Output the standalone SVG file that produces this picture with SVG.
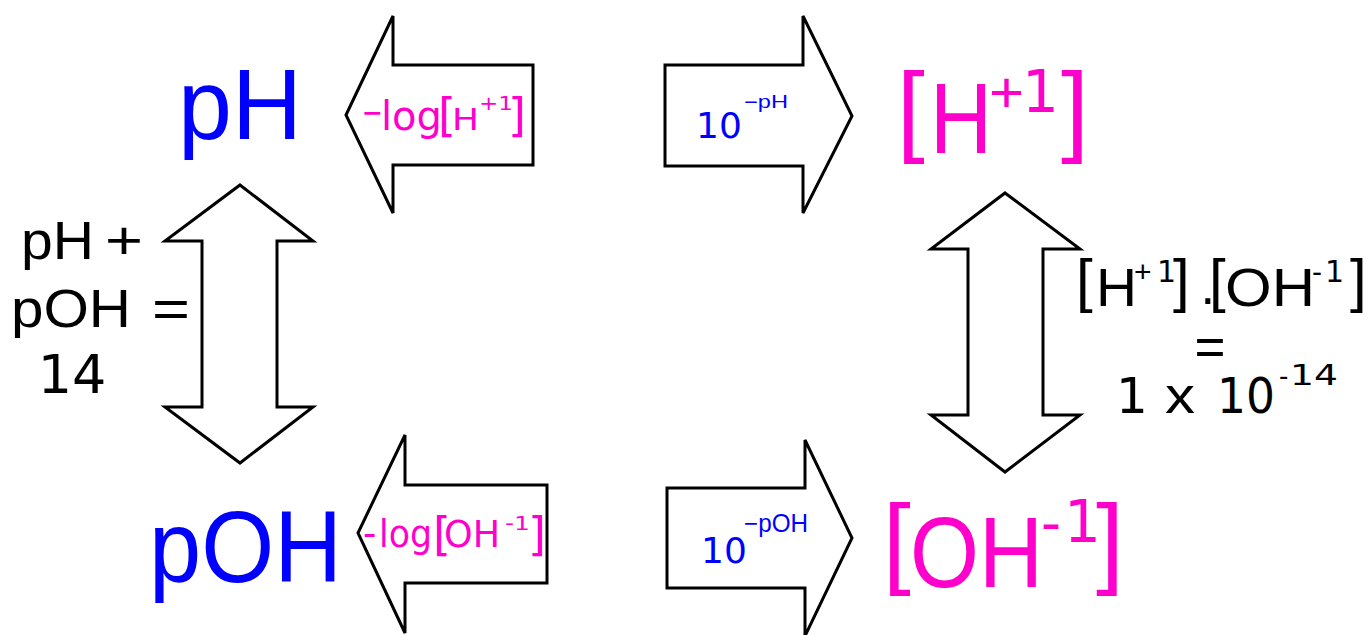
<svg xmlns="http://www.w3.org/2000/svg" width="1371" height="635" viewBox="0 0 1371 635">
<style>
.arrow{fill:#fff;stroke:#000;stroke-width:3;stroke-linejoin:miter}
.s{font-family:"Liberation Sans",Arial,sans-serif}
.d{font-family:"DejaVu Sans",Verdana,sans-serif}
.blue{fill:#0000ff}
.mag{fill:#ff00cc}
.blk{fill:#000}
</style>
<rect width="1371" height="635" fill="#fff"/>
<g id="connectors">
<polygon class="arrow" points="346,115 393,16 393,65 533,65 533,165 393,165 393,213"/>
<polygon class="arrow" points="665,65 803,65 803,16 852,116 803,213 803,166 665,166"/>
<polygon class="arrow" points="358,533 405,435 405,485 547,485 547,583 405,583 405,633"/>
<polygon class="arrow" points="667,488 805,488 805,440 852,538 805,636 805,588 667,588"/>
<polygon class="arrow" points="240,185 313,241 277,241 277,407 313,407 240,463 165,407 202,407 202,241 165,241"/>
<polygon class="arrow" points="1005,193 1080,249 1043,249 1043,415 1080,415 1005,472 931,415 968,415 968,249 931,249"/>
</g>
<g id="label-neglogH">
<text class="d mag"><tspan x="362" y="121" font-size="25" font-weight="bold">−</tspan><tspan x="381" y="130" font-size="40">log</tspan></text>
<text class="d mag" x="438" y="131" font-size="46">[</text>
<text class="d mag" x="452" y="130" font-size="30" textLength="27" lengthAdjust="spacingAndGlyphs">H</text>
<text class="d mag" x="479" y="110" font-size="20" textLength="34" lengthAdjust="spacingAndGlyphs">+1</text>
<text class="d mag" x="508" y="131" font-size="46">]</text>
</g>
<g id="label-10pH">
<text class="d blue" x="696" y="138" font-size="36">10</text>
<text class="s blue" x="744" y="108" font-size="18" textLength="44" lengthAdjust="spacingAndGlyphs">−pH</text>
</g>
<g id="label-neglogOH">
<text class="d mag"><tspan x="363" y="546" font-size="37">-</tspan><tspan x="379" y="547" font-size="37" textLength="53" lengthAdjust="spacingAndGlyphs">log</tspan></text>
<text class="d mag" x="433" y="550" font-size="46">[</text>
<text class="d mag" x="444" y="547" font-size="37" textLength="56" lengthAdjust="spacingAndGlyphs">OH</text>
<text class="d mag" x="505" y="530" font-size="20" textLength="25" lengthAdjust="spacingAndGlyphs">-1</text>
<text class="d mag" x="528" y="550" font-size="46">]</text>
</g>
<g id="label-10pOH">
<text class="d blue" x="701" y="563" font-size="36">10</text>
<text class="s blue" x="744" y="532" font-size="25" textLength="64" lengthAdjust="spacingAndGlyphs">−pOH</text>
</g>
<g id="node-pH">
<text class="s blue" x="178" y="139" font-size="100" textLength="124" lengthAdjust="spacingAndGlyphs">pH</text>
</g>
<g id="node-H">
<text class="s mag" x="897" y="143" font-size="100">[</text>
<text class="s mag" x="930" y="153" font-size="100" textLength="62" lengthAdjust="spacingAndGlyphs">H</text>
<text class="s mag" x="989" y="112" font-size="58" textLength="35" lengthAdjust="spacingAndGlyphs">+</text>
<text class="d mag" x="1022" y="112" font-size="58">1</text>
<text class="s mag" x="1061" y="143" font-size="100">]</text>
</g>
<g id="node-pOH">
<text class="s blue" x="149" y="582" font-size="102" textLength="193" lengthAdjust="spacingAndGlyphs">pOH</text>
</g>
<g id="node-OH">
<text class="s mag" x="883" y="575" font-size="100">[</text>
<text class="s mag" x="910" y="587" font-size="100" textLength="133" lengthAdjust="spacingAndGlyphs">OH</text>
<text class="s mag" x="1041" y="542" font-size="58" textLength="20" lengthAdjust="spacingAndGlyphs">-</text>
<text class="d mag" x="1064" y="542" font-size="58">1</text>
<text class="s mag" x="1096" y="575" font-size="100">]</text>
</g>
<g id="label-sum14">
<text class="s blk" x="21" y="259" font-size="54" textLength="73" lengthAdjust="spacingAndGlyphs">pH</text>
<text class="s blk" x="105" y="259" font-size="54" textLength="38" lengthAdjust="spacingAndGlyphs">+</text>
<text class="s blk" x="11" y="327" font-size="54" textLength="120" lengthAdjust="spacingAndGlyphs">pOH</text>
<text class="s blk" x="152" y="327" font-size="54" textLength="38" lengthAdjust="spacingAndGlyphs">=</text>
<text class="d blk" x="72" y="393" font-size="54" text-anchor="middle">14</text>
</g>
<g id="label-kw">
<text class="s blk" x="1076" y="301" font-size="60">[</text>
<text class="s blk" x="1096" y="306" font-size="53" textLength="41" lengthAdjust="spacingAndGlyphs">H</text>
<text class="s blk" x="1134" y="282" font-size="30">+</text>
<text class="d blk" x="1157" y="282" font-size="30">1</text>
<text class="s blk" x="1173" y="301" font-size="60">]</text>
<text class="s blk" x="1199" y="316" font-size="53">·</text>
<text class="s blk" x="1209" y="301" font-size="60">[</text>
<text class="s blk" x="1225" y="306" font-size="53" textLength="90" lengthAdjust="spacingAndGlyphs">OH</text>
<text class="s blk" x="1312" y="282" font-size="30">-</text>
<text class="d blk" x="1325" y="282" font-size="30">1</text>
<text class="s blk" x="1350" y="301" font-size="60">]</text>
<text class="s blk" x="1210" y="365" font-size="53" text-anchor="middle">=</text>
<text class="d blk" x="1116" y="413" font-size="50">1</text>
<text class="s blk" x="1165" y="413" font-size="50" textLength="30" lengthAdjust="spacingAndGlyphs">x</text>
<text class="d blk" x="1217" y="413" font-size="50" textLength="58" lengthAdjust="spacingAndGlyphs">10</text>
<text class="s blk" x="1279" y="385" font-size="28">-</text>
<text class="d blk" x="1290" y="385" font-size="28" textLength="48" lengthAdjust="spacingAndGlyphs">14</text>
</g>
</svg>
